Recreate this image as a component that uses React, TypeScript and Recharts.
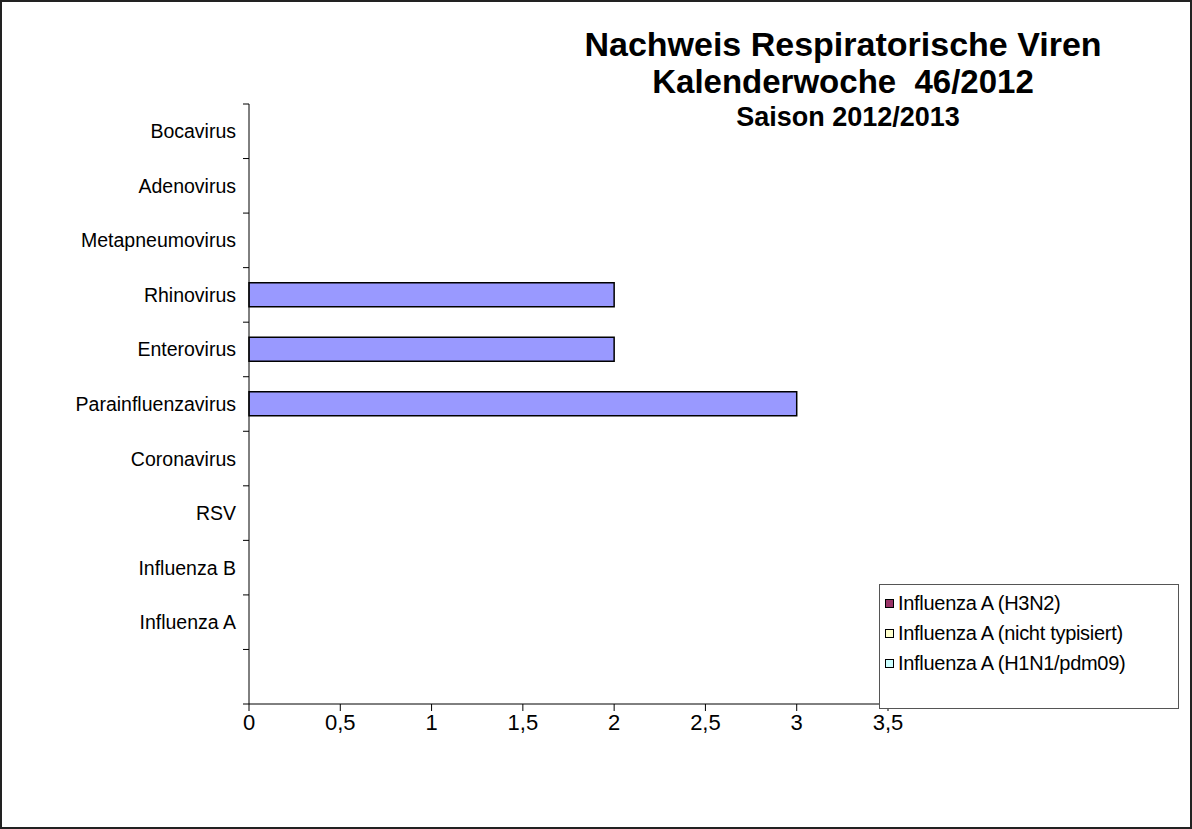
import React from "react";
import { BarChart, Bar, XAxis, YAxis } from "recharts";

const categories = [
  "Bocavirus",
  "Adenovirus",
  "Metapneumovirus",
  "Rhinovirus",
  "Enterovirus",
  "Parainfluenzavirus",
  "Coronavirus",
  "RSV",
  "Influenza B",
  "Influenza A",
  "",
];
const nachweise = [0, 0, 0, 2, 2, 3, 0, 0, 0, 0, 0];
const h3n2 = [0, 0, 0, 0, 0, 0, 0, 0, 0, 0, 0];
const nichtTypisiert = [0, 0, 0, 0, 0, 0, 0, 0, 0, 0, 0];
const h1n1 = [0, 0, 0, 0, 0, 0, 0, 0, 0, 0, 0];
const xTicks = [0, 0.5, 1, 1.5, 2, 2.5, 3, 3.5];

const subtypes = [
  { key: "h3n2", name: "Influenza A (H3N2)", color: "#993366" },
  { key: "nt", name: "Influenza A (nicht typisiert)", color: "#FFFFCC" },
  { key: "h1n1", name: "Influenza A (H1N1/pdm09)", color: "#CCFFFF" },
];

const data = categories.map((name, i) => ({
  name,
  nachweise: nachweise[i],
  h3n2: h3n2[i],
  nt: nichtTypisiert[i],
  h1n1: h1n1[i],
}));

const font = "'Liberation Sans', Arial, sans-serif";
const TICK_SIZE = 6;
const TICK_MARGIN = 7;

// Excel style: tick marks sit between the categories, not at their centres
const CategoryTick = (props: any) => {
  const { x, y, payload, index } = props;
  const half = payload && payload.offset ? payload.offset : 600 / categories.length / 2;
  const axisX = x + TICK_SIZE + TICK_MARGIN;
  return (
    <g>
      <line x1={axisX - TICK_SIZE} x2={axisX} y1={y - half} y2={y - half} stroke="#000" />
      {index === categories.length - 1 && (
        <line x1={axisX - TICK_SIZE} x2={axisX} y1={y + half} y2={y + half} stroke="#000" />
      )}
      <text x={x} y={y} dy="0.36em" textAnchor="end" fill="#000" fontSize={19.5} fontFamily={font}>
        {payload.value}
      </text>
    </g>
  );
};

const LegendBox = () => (
  <div
    style={{
      position: "absolute",
      left: 877,
      top: 582,
      border: "1px solid #555",
      background: "#fff",
      width: 300,
      height: 125,
      boxSizing: "border-box",
      padding: "3px 0 0 5px",
      fontFamily: font,
      fontSize: 20,
      color: "#000",
    }}
  >
    {subtypes.map((s) => (
      <div key={s.key} style={{ display: "flex", alignItems: "center", height: 30 }}>
        <span
          style={{
            display: "inline-block",
            width: 7,
            height: 7,
            border: "1px solid #000",
            background: s.color,
            marginRight: 4,
          }}
        />
        <span style={{ letterSpacing: -0.3 }}>{s.name}</span>
      </div>
    ))}
  </div>
);

export default function App() {
  return (
    <div
      style={{
        position: "absolute",
        left: 0,
        top: 0,
        width: 1192,
        height: 829,
        border: "2px solid #222",
        boxSizing: "border-box",
        background: "#fff",
        fontFamily: font,
      }}
    >
      <div style={{ position: "absolute", left: -2, top: -2 }}>
        <BarChart
          width={1192}
          height={829}
          data={data}
          layout="vertical"
          barSize={24}
          margin={{ top: 104, right: 304, bottom: 85, left: 9 }}
        >
          <text x={843} y={56} textAnchor="middle" fontSize={34} fontWeight="bold" fill="#000" fontFamily={font}>
            Nachweis Respiratorische Viren
          </text>
          <text x={843} y={93} textAnchor="middle" fontSize={33} fontWeight="bold" fill="#000" fontFamily={font} style={{ whiteSpace: "pre" }}>
            {"Kalenderwoche  46/2012"}
          </text>
          <text x={848} y={126} textAnchor="middle" fontSize={27} fontWeight="bold" fill="#000" fontFamily={font}>
            Saison 2012/2013
          </text>
          <XAxis
            type="number"
            domain={[0, 3.5]}
            ticks={xTicks}
            interval={0}
            tickFormatter={(v: number) => String(v).replace(".", ",")}
            axisLine={{ stroke: "#000" }}
            tickLine={{ stroke: "#000" }}
            tickSize={7}
            tickMargin={3}
            height={40}
            tick={{ fill: "#000", fontSize: 22, fontFamily: font }}
          />
          <YAxis
            type="category"
            dataKey="name"
            width={240}
            interval={0}
            axisLine={{ stroke: "#000" }}
            tickLine={false}
            tickSize={TICK_SIZE}
            tickMargin={TICK_MARGIN}
            tick={<CategoryTick />}
          />
          <Bar
            dataKey="nachweise"
            stackId="a"
            fill="#9999FF"
            stroke="#000"
            strokeWidth={1.5}
            isAnimationActive={false}
          />
          {subtypes.map((s) => (
            <Bar
              key={s.key}
              dataKey={s.key}
              name={s.name}
              stackId="a"
              fill={s.color}
              stroke="#000"
              isAnimationActive={false}
            />
          ))}
        </BarChart>
      </div>
      <LegendBox />
    </div>
  );
}
